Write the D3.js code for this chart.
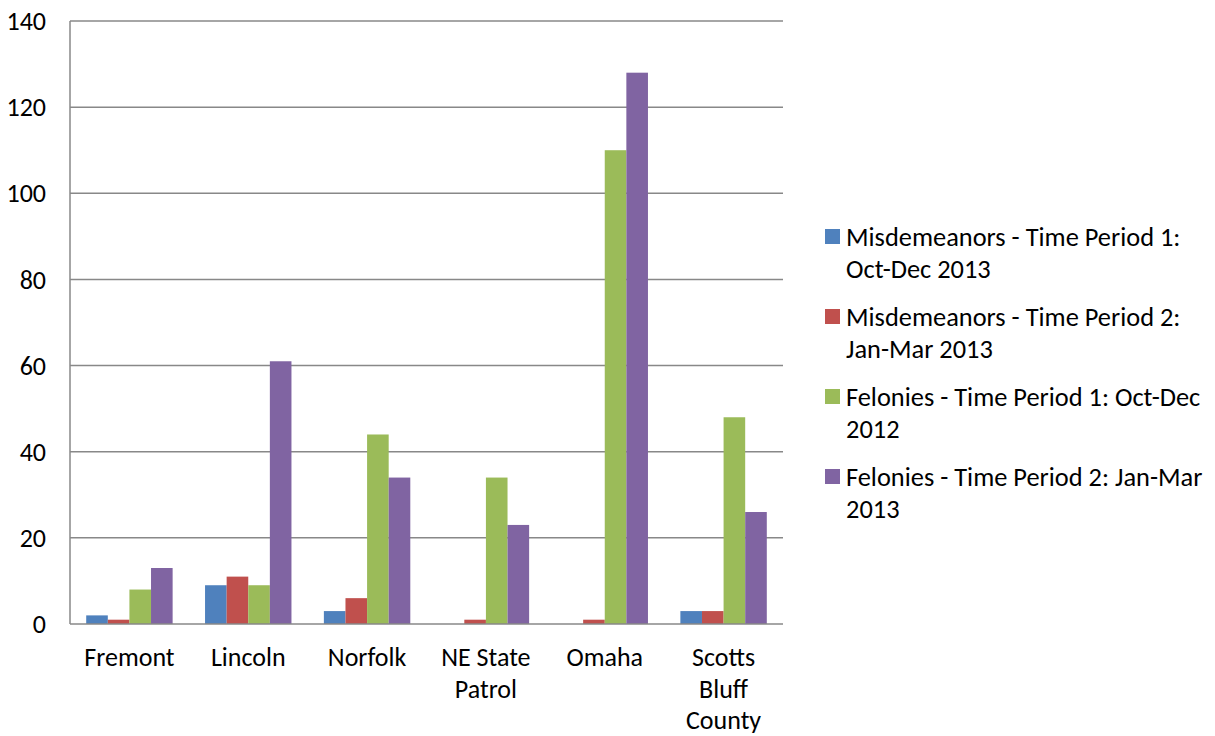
<!DOCTYPE html>
<html><head><meta charset="utf-8">
<script src="https://cdn.jsdelivr.net/npm/d3@7/dist/d3.min.js"></script>
<style>body{margin:0;background:#fff}svg{display:block}text{font-family:Carlito,Calibri,Lato,sans-serif;fill:#000}</style>
</head><body><svg id="c" width="1215" height="736"></svg>
<script>
const categories = ["Fremont","Lincoln","Norfolk","NE State Patrol","Omaha","Scotts Bluff County"];
const categoryLines = [["Fremont"],["Lincoln"],["Norfolk"],["NE State","Patrol"],["Omaha"],["Scotts","Bluff","County"]];
const seriesNames = ["Misdemeanors - Time Period 1: Oct-Dec 2013","Misdemeanors - Time Period 2: Jan-Mar 2013","Felonies - Time Period 1: Oct-Dec 2012","Felonies - Time Period 2: Jan-Mar 2013"];
const seriesLines = [["Misdemeanors - Time Period 1:","Oct-Dec 2013"],["Misdemeanors - Time Period 2:","Jan-Mar 2013"],["Felonies - Time Period 1: Oct-Dec","2012"],["Felonies - Time Period 2: Jan-Mar","2013"]];
const misdemeanorsP1 = [2,9,3,0,0,3];
const misdemeanorsP2 = [1,11,6,1,1,3];
const feloniesP1 = [8,9,44,34,110,48];
const feloniesP2 = [13,61,34,23,128,26];
const yTicks = [0,20,40,60,80,100,120,140];
const colors = ["#4F81BD","#C0504D","#9BBB59","#8064A2"];
const series = [misdemeanorsP1,misdemeanorsP2,feloniesP1,feloniesP2];

const svg = d3.select("#c");
const L=70, R=783, T=21, B=624;
const FS=26;
const y = d3.scaleLinear().domain([0,140]).range([B,T]);
const x0 = d3.scaleBand().domain(categories).range([L,R]).paddingInner(0).paddingOuter(0);
const bw = x0.bandwidth()/5.5;

svg.append("g").selectAll("line").data(yTicks.filter(d=>d>0)).join("line")
  .attr("x1",L).attr("x2",R).attr("y1",d=>y(d)).attr("y2",d=>y(d))
  .attr("stroke","#888").attr("stroke-width",1.5);

categories.forEach((c,i)=>{
  series.forEach((s,j)=>{
    const v=s[i];
    if(v<=0) return;
    svg.append("rect").attr("x",x0(c)+0.75*bw+j*bw).attr("y",y(v)).attr("width",bw).attr("height",y(0)-y(v))
      .attr("fill",colors[j]);
  });
});

svg.append("line").attr("x1",L).attr("x2",L).attr("y1",T).attr("y2",B).attr("stroke","#888").attr("stroke-width",1.5);
svg.append("line").attr("x1",L).attr("x2",R).attr("y1",B).attr("y2",B).attr("stroke","#888").attr("stroke-width",1.5);

svg.append("g").selectAll("text").data(yTicks).join("text")
  .attr("x",46).attr("y",d=>y(d)).attr("dy","0.35em").attr("text-anchor","end")
  .attr("font-size",FS).text(d=>d);

categories.forEach((c,i)=>{
  const t = svg.append("text").attr("text-anchor","middle").attr("font-size",FS);
  categoryLines[i].forEach((ln,k)=>{
    t.append("tspan").attr("x",x0(c)+x0.bandwidth()/2).attr("y",666+k*31.5).text(ln);
  });
});

seriesNames.forEach((n,j)=>{
  const g = svg.append("g").attr("transform",`translate(825,${229+j*80})`);
  g.append("rect").attr("width",15).attr("height",15).attr("fill",colors[j]);
  const t = g.append("text").attr("font-size",26.4);
  seriesLines[j].forEach((ln,k)=>t.append("tspan").attr("x",21).attr("y",17+k*32).text(ln));
});
</script></body></html>
